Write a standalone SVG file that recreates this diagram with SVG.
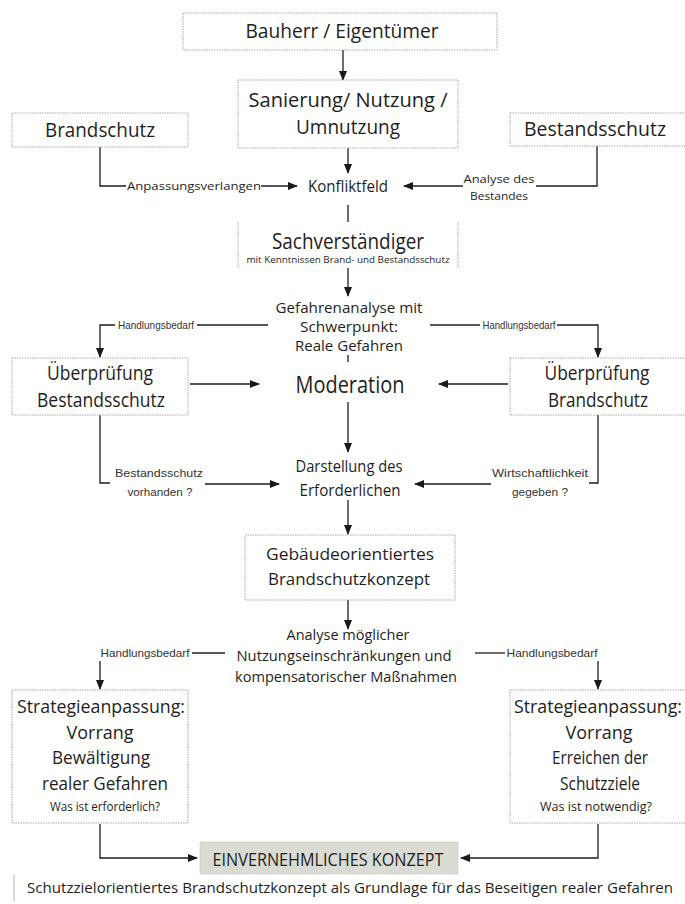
<svg xmlns="http://www.w3.org/2000/svg" width="685" height="904" viewBox="0 0 685 904">
<defs>
<marker id="ah" markerWidth="10" markerHeight="8" refX="9" refY="4" orient="auto" markerUnits="userSpaceOnUse">
<path d="M0,0 L10,4 L0,8 Z" fill="#1a1a1a"/>
</marker>
<style>
text{font-family:"Open Sans","Noto Sans","DejaVu Sans",sans-serif;fill:#1e1e1e;text-anchor:middle}
.box{fill:#fff;stroke:#a8a8a8;stroke-width:1;stroke-dasharray:1.5 1}
.ln{fill:none;stroke:#1e1e1e;stroke-width:1.3}
.a{marker-end:url(#ah)}
.l{font-size:19.5px}
.m{font-size:15.5px}
.s{font-family:"Liberation Sans",Arial,sans-serif;font-size:10.5px;fill:#333}
</style>
</defs>
<rect width="685" height="904" fill="#fff"/>

<g id="connectors">
<line class="ln a" x1="343" y1="50" x2="343" y2="80"/>
<line class="ln a" x1="348" y1="148" x2="348" y2="173"/>
<polyline class="ln" points="100,147 100,186 126,186"/>
<line class="ln a" x1="261" y1="186" x2="297" y2="186"/>
<polyline class="ln" points="597,146 597,186 536,186"/>
<line class="ln a" x1="463" y1="186" x2="404" y2="186"/>
<line class="ln" x1="348" y1="205" x2="348" y2="222"/>
<line class="ln a" x1="348" y1="268" x2="348" y2="296"/>
<polyline class="ln a" points="115,325 100,325 100,357"/>
<line class="ln" x1="197" y1="325" x2="268" y2="325"/>
<line class="ln" x1="430" y1="325" x2="480" y2="325"/>
<polyline class="ln a" points="557,325 598,325 598,357"/>
<line class="ln" x1="348" y1="355" x2="348" y2="362"/>
<line class="ln a" x1="190" y1="384" x2="259" y2="384"/>
<line class="ln a" x1="508" y1="384" x2="439" y2="384"/>
<line class="ln a" x1="348" y1="402" x2="348" y2="452"/>
<polyline class="ln" points="100,415 100,483 110,483"/>
<line class="ln a" x1="205" y1="484" x2="279" y2="484"/>
<polyline class="ln" points="598,415 598,483 589,483"/>
<line class="ln a" x1="491" y1="484" x2="415" y2="484"/>
<line class="ln a" x1="348" y1="500" x2="348" y2="534"/>
<line class="ln a" x1="348" y1="600" x2="348" y2="629"/>
<line class="ln" x1="192" y1="653" x2="225" y2="653"/>
<line class="ln a" x1="100" y1="661" x2="100" y2="689"/>
<line class="ln" x1="475" y1="653" x2="505" y2="653"/>
<line class="ln a" x1="598" y1="661" x2="598" y2="689"/>
<polyline class="ln a" points="100,824 100,858 197,858"/>
<polyline class="ln a" points="598,824 598,858 461,858"/>
<line x1="14" y1="875" x2="14" y2="902" stroke="#b5b5b5" stroke-width="1"/>
</g>

<g id="bauherr">
<rect class="box" x="183" y="13" width="314" height="37"/>
<text class="l" x="342" y="38" textLength="193" lengthAdjust="spacingAndGlyphs">Bauherr / Eigentümer</text>
</g>
<g id="sanierung">
<rect class="box" x="238" y="80" width="220" height="68"/>
<text class="l" x="348" y="107" textLength="199" lengthAdjust="spacingAndGlyphs">Sanierung/ Nutzung /</text>
<text class="l" x="348" y="134" textLength="104" lengthAdjust="spacingAndGlyphs">Umnutzung</text>
</g>
<g id="brandschutz">
<rect class="box" x="12" y="113" width="176" height="34"/>
<text class="l" x="100" y="137" textLength="110" lengthAdjust="spacingAndGlyphs">Brandschutz</text>
</g>
<g id="bestandsschutz">
<rect class="box" x="510" y="113" width="180" height="33"/>
<text class="l" x="595" y="136" textLength="142" lengthAdjust="spacingAndGlyphs">Bestandsschutz</text>
</g>
<g id="konfliktfeld">
<text class="m" x="348" y="192" textLength="80" lengthAdjust="spacingAndGlyphs">Konfliktfeld</text>
<text x="194" y="190" style="font-size:11px" textLength="134" lengthAdjust="spacingAndGlyphs">Anpassungsverlangen</text>
<text x="499" y="183" style="font-size:11.5px" textLength="71" lengthAdjust="spacingAndGlyphs">Analyse des</text>
<text x="499" y="200" style="font-size:11.5px" textLength="58" lengthAdjust="spacingAndGlyphs">Bestandes</text>
</g>
<g id="sachverstaendiger">
<line x1="238" y1="222" x2="238" y2="268" stroke="#a8a8a8" stroke-dasharray="1.5 1"/>
<line x1="458" y1="222" x2="458" y2="268" stroke="#a8a8a8" stroke-dasharray="1.5 1"/>
<text x="348" y="249" style="font-size:21.5px" textLength="152" lengthAdjust="spacingAndGlyphs">Sachverständiger</text>
<text x="348" y="263" style="font-size:8.5px" textLength="203" lengthAdjust="spacingAndGlyphs">mit Kenntnissen Brand- und Bestandsschutz</text>
</g>
<g id="gefahrenanalyse">
<text x="349" y="313" style="font-size:15px" textLength="147" lengthAdjust="spacingAndGlyphs">Gefahrenanalyse mit</text>
<text x="349" y="332" style="font-size:15px" textLength="98" lengthAdjust="spacingAndGlyphs">Schwerpunkt:</text>
<text x="349" y="351" style="font-size:15px" textLength="108" lengthAdjust="spacingAndGlyphs">Reale Gefahren</text>
<text class="s" x="156" y="329" textLength="76" lengthAdjust="spacingAndGlyphs">Handlungsbedarf</text>
<text class="s" x="519" y="329" textLength="73" lengthAdjust="spacingAndGlyphs">Handlungsbedarf</text>
</g>
<g id="ueberpruefung-bestandsschutz">
<rect class="box" x="12" y="358" width="176" height="57"/>
<text class="l" x="100" y="380" textLength="106" lengthAdjust="spacingAndGlyphs">Überprüfung</text>
<text class="l" x="101" y="407" textLength="128" lengthAdjust="spacingAndGlyphs">Bestandsschutz</text>
</g>
<g id="moderation">
<text x="350" y="393" style="font-size:23px" textLength="109" lengthAdjust="spacingAndGlyphs">Moderation</text>
</g>
<g id="ueberpruefung-brandschutz">
<rect class="box" x="510" y="358" width="180" height="57"/>
<text class="l" x="597" y="380" textLength="105" lengthAdjust="spacingAndGlyphs">Überprüfung</text>
<text class="l" x="598" y="407" textLength="100" lengthAdjust="spacingAndGlyphs">Brandschutz</text>
</g>
<g id="darstellung">
<text class="m" x="349" y="472" textLength="107" lengthAdjust="spacingAndGlyphs">Darstellung des</text>
<text class="m" x="350" y="496" textLength="101" lengthAdjust="spacingAndGlyphs">Erforderlichen</text>
<text class="s" x="159" y="477" textLength="88" lengthAdjust="spacingAndGlyphs">Bestandsschutz</text>
<text class="s" x="160" y="496" textLength="65" lengthAdjust="spacingAndGlyphs">vorhanden ?</text>
<text class="s" x="540" y="477" textLength="96" lengthAdjust="spacingAndGlyphs">Wirtschaftlichkeit</text>
<text class="s" x="540" y="496" textLength="56" lengthAdjust="spacingAndGlyphs">gegeben ?</text>
</g>
<g id="gebaeudeorientiertes">
<rect class="box" x="245" y="535" width="210" height="65"/>
<text x="350" y="560" style="font-size:17px" textLength="168" lengthAdjust="spacingAndGlyphs">Gebäudeorientiertes</text>
<text x="349" y="585" style="font-size:17px" textLength="162" lengthAdjust="spacingAndGlyphs">Brandschutzkonzept</text>
</g>
<g id="analyse">
<text x="348" y="640" style="font-size:15px" textLength="123" lengthAdjust="spacingAndGlyphs">Analyse möglicher</text>
<text x="344" y="661" style="font-size:15px" textLength="215" lengthAdjust="spacingAndGlyphs">Nutzungseinschränkungen und</text>
<text x="346" y="682" style="font-size:15px" textLength="222" lengthAdjust="spacingAndGlyphs">kompensatorischer Maßnahmen</text>
<text class="s" x="145" y="657" textLength="89" lengthAdjust="spacingAndGlyphs">Handlungsbedarf</text>
<text class="s" x="552" y="657" textLength="91" lengthAdjust="spacingAndGlyphs">Handlungsbedarf</text>
</g>
<g id="strategie-links">
<rect class="box" x="12" y="690" width="176" height="133" style="stroke:#9aa89a"/>
<text x="101" y="713" style="font-size:18px" textLength="168" lengthAdjust="spacingAndGlyphs">Strategieanpassung:</text>
<text x="100" y="739" style="font-size:18px" textLength="67" lengthAdjust="spacingAndGlyphs">Vorrang</text>
<text x="101" y="764" style="font-size:18px" textLength="98" lengthAdjust="spacingAndGlyphs">Bewältigung</text>
<text x="105" y="790" style="font-size:18px" textLength="126" lengthAdjust="spacingAndGlyphs">realer Gefahren</text>
<text x="105" y="811" style="font-size:12.5px" textLength="110" lengthAdjust="spacingAndGlyphs">Was ist erforderlich?</text>
</g>
<g id="strategie-rechts">
<rect class="box" x="510" y="690" width="180" height="133"/>
<text x="598" y="713" style="font-size:18px" textLength="168" lengthAdjust="spacingAndGlyphs">Strategieanpassung:</text>
<text x="599" y="739" style="font-size:18px" textLength="67" lengthAdjust="spacingAndGlyphs">Vorrang</text>
<text x="600" y="764" style="font-size:18px" textLength="96" lengthAdjust="spacingAndGlyphs">Erreichen der</text>
<text x="600" y="790" style="font-size:18px" textLength="80" lengthAdjust="spacingAndGlyphs">Schutzziele</text>
<text x="596" y="811" style="font-size:12.5px" textLength="112" lengthAdjust="spacingAndGlyphs">Was ist notwendig?</text>
</g>
<g id="einvernehmliches-konzept">
<rect x="200" y="842" width="258" height="32" fill="#dadcd3" stroke="#c4c7bd" stroke-width="1" stroke-dasharray="1.5 1"/>
<text x="328" y="866" style="font-size:19px" textLength="231" lengthAdjust="spacingAndGlyphs">EINVERNEHMLICHES KONZEPT</text>
</g>
<g id="fazit">
<text x="350" y="893" style="font-size:15px" textLength="646" lengthAdjust="spacingAndGlyphs">Schutzzielorientiertes Brandschutzkonzept als Grundlage für das Beseitigen realer Gefahren</text>
</g>
</svg>
